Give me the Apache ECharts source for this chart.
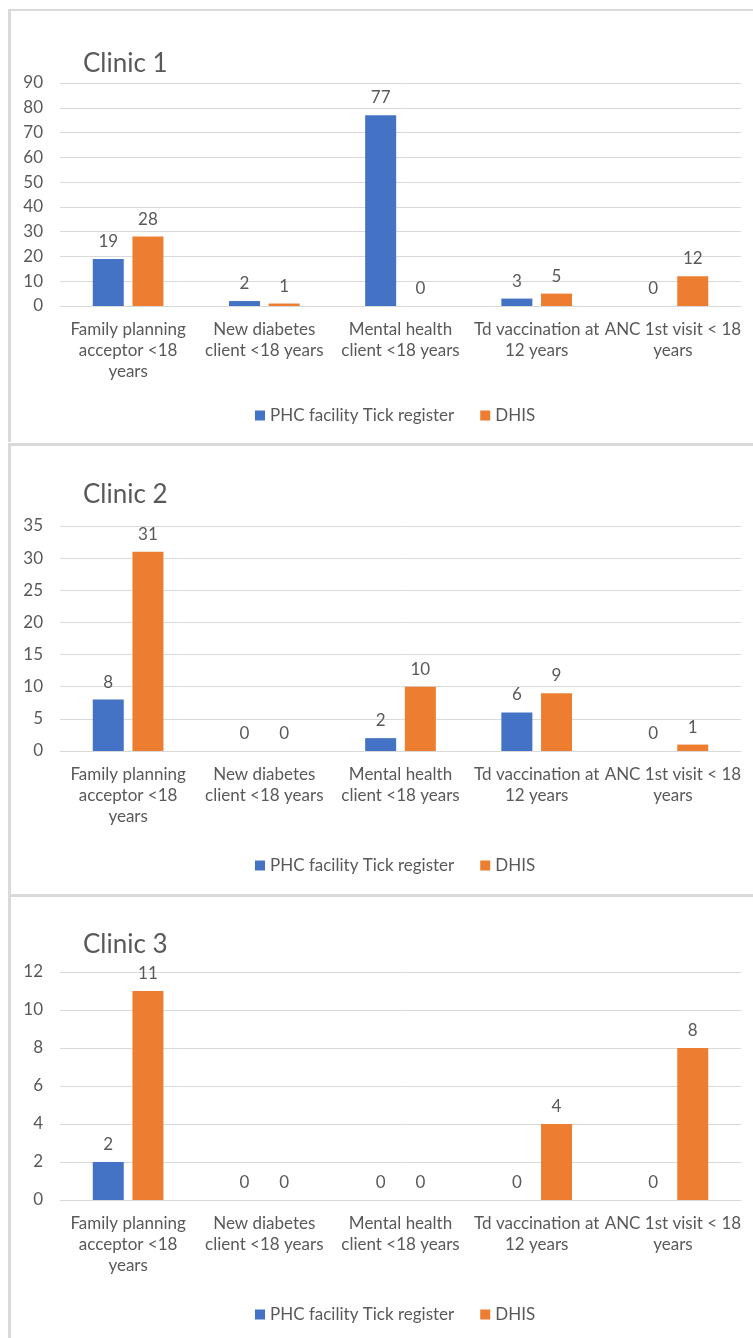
<!DOCTYPE html>
<html>
<head>
<meta charset="utf-8">
<script src="https://cdn.jsdelivr.net/npm/echarts@6/dist/echarts.min.js"></script>
<style>
html, body { margin: 0; padding: 0; background: #fff; }
body { width: 753px; height: 1338px; position: relative; overflow: hidden; }
.frame { position: absolute; left: 8px; width: 800px; border-top: 3px solid #d9d9d9; border-left: 3px solid #d9d9d9; }
.chart { position: absolute; left: 0; width: 753px; }
</style>
</head>
<body>
<div class="frame" style="top:9px;height:431px;border-top-width:2px;"></div>
<div class="frame" style="top:443px;height:448px;"></div>
<div class="frame" style="top:894px;height:460px;"></div>
<div class="chart" id="clinic1" style="top:12px;height:431px;"></div>
<div class="chart" id="clinic2" style="top:446px;height:448px;"></div>
<div class="chart" id="clinic3" style="top:897px;height:441px;"></div>
<script>
// 数据
var categories = [
    'Family planning\nacceptor <18\nyears',
    'New diabetes\nclient <18 years',
    'Mental health\nclient <18 years',
    'Td vaccination at\n12 years',
    'ANC 1st visit < 18\nyears'
];
var seriesNames = ['PHC facility Tick register', 'DHIS'];
var clinic1Tick = [19, 2, 77, 3, 0];
var clinic1Dhis = [28, 1, 0, 5, 12];
var clinic2Tick = [8, 0, 2, 6, 0];
var clinic2Dhis = [31, 0, 10, 9, 1];
var clinic3Tick = [2, 0, 0, 0, 0];
var clinic3Dhis = [11, 0, 0, 4, 8];

var textColor = '#595959';
var fontFamily = 'Lato, "Noto Sans", sans-serif';

function makeOption(title, tick, dhis, max, interval, layout) {
    var barLabel = {
        show: true,
        position: 'top',
        distance: 9,
        color: textColor,
        fontSize: 17,
        fontFamily: fontFamily
    };
    return {
        animation: false,
        textStyle: { fontFamily: fontFamily },
        title: {
            text: title,
            left: 78,
            top: layout.titleTop,
            textStyle: {
                color: textColor,
                fontSize: 26,
                fontWeight: 'normal',
                fontFamily: fontFamily
            }
        },
        legend: {
            top: layout.legendTop,
            left: 250,
            icon: 'rect',
            itemWidth: 10,
            itemHeight: 10,
            itemGap: 26,
            itemTextGap: 5,
            textStyle: { color: textColor, fontSize: 17, fontFamily: fontFamily },
            data: seriesNames
        },
        grid: {
            left: 60,
            top: layout.gridTop,
            width: 681,
            height: layout.gridHeight,
            containLabel: false
        },
        xAxis: {
            type: 'category',
            data: categories,
            axisTick: { show: false },
            axisLine: { lineStyle: { color: '#d9d9d9', width: 1 } },
            axisLabel: {
                interval: 0,
                margin: 13,
                color: textColor,
                fontSize: 17,
                lineHeight: 21,
                fontFamily: fontFamily
            }
        },
        yAxis: {
            type: 'value',
            min: 0,
            max: max,
            interval: interval,
            axisLine: { show: false },
            axisTick: { show: false },
            splitLine: { lineStyle: { color: '#d9d9d9', width: 1 } },
            axisLabel: {
                margin: 17,
                color: textColor,
                fontSize: 17,
                fontFamily: fontFamily
            }
        },
        series: [
            {
                name: seriesNames[0],
                type: 'bar',
                barWidth: 31,
                barGap: '28%',
                itemStyle: { color: '#4472c4' },
                label: barLabel,
                data: tick
            },
            {
                name: seriesNames[1],
                type: 'bar',
                barWidth: 31,
                barGap: '28%',
                itemStyle: { color: '#ed7d31' },
                label: barLabel,
                data: dhis
            }
        ]
    };
}

var chart1 = echarts.init(document.getElementById('clinic1'));
chart1.setOption(makeOption('Clinic 1', clinic1Tick, clinic1Dhis, 90, 10,
    { titleTop: 34, gridTop: 71, gridHeight: 223, legendTop: 390 }));
var chart2 = echarts.init(document.getElementById('clinic2'));
chart2.setOption(makeOption('Clinic 2', clinic2Tick, clinic2Dhis, 35, 5,
    { titleTop: 31, gridTop: 80, gridHeight: 225, legendTop: 406 }));
var chart3 = echarts.init(document.getElementById('clinic3'));
chart3.setOption(makeOption('Clinic 3', clinic3Tick, clinic3Dhis, 12, 2,
    { titleTop: 30, gridTop: 75, gridHeight: 228, legendTop: 404 }));
</script>
</body>
</html>
